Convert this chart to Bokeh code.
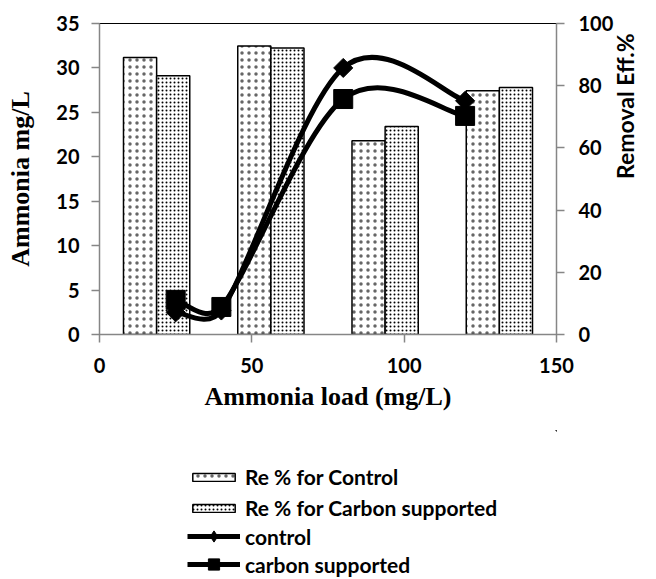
import math
from bokeh.plotting import figure
from bokeh.layouts import column
from bokeh.models import (ColumnDataSource, Range1d, LinearAxis,
                          SingleIntervalTicker, Legend, LegendItem)
from bokeh.transform import dodge
from bokeh.embed import file_html
from bokeh.resources import INLINE

# ---------------- data ----------------
loads = [25, 40, 80, 120]                    # Ammonia load (mg/L)
categories = ["25", "40", "80", "120"]       # bar categories (hidden category axis)
re_control = [89.1, 92.8, 62.3, 78.4]        # Re % for Control
re_carbon = [83.2, 92.1, 66.9, 79.4]         # Re % for Carbon supported
nh3_control = [2.5, 2.7, 30.0, 26.3]         # control (Ammonia mg/L)
nh3_carbon = [3.9, 3.1, 26.5, 24.6]          # carbon supported (Ammonia mg/L)

# ---------------- layout ----------------
W = 656
H_MAIN, H_LEG = 430, 149
FW, FH = 462, 311
BL, BT = 99, 23
BR = W - BL - FW
BB = H_MAIN - BT - FH

TICK_FONT = "Lato"
SERIF = "Liberation Serif"
AXIS_GRAY = "#868686"

p = figure(width=W, height=H_MAIN, x_range=Range1d(0, 150), y_range=Range1d(0, 35),
           output_backend="svg", toolbar_location=None,
           min_border_left=BL, min_border_right=BR, min_border_top=BT,
           min_border_bottom=BB)
p.extra_y_ranges = {"pct": Range1d(0, 100)}
# hidden category axis of the bar chart: one unit slot per category
p.extra_x_ranges = {"cat": Range1d(0, len(categories))}
p.grid.visible = False
p.outline_line_color = "black"
p.outline_line_width = 1
p.background_fill_color = "white"
p.border_fill_color = "white"

def style_axis(ax, standoff):
    ax.axis_line_color = AXIS_GRAY
    ax.axis_line_width = 1.5
    ax.major_tick_line_color = AXIS_GRAY
    ax.major_tick_line_width = 1.5
    ax.major_tick_out = 8
    ax.major_tick_in = 0
    ax.minor_tick_line_color = None
    ax.major_label_text_font = TICK_FONT
    ax.major_label_text_font_style = "bold"
    ax.major_label_text_font_size = "20px"
    ax.major_label_text_color = "black"
    ax.major_label_standoff = standoff

# bottom axis
xa = p.xaxis[0]
xa.ticker = SingleIntervalTicker(interval=50)
style_axis(xa, 15)
xa.axis_label = "Ammonia load (mg/L)"
xa.axis_label_text_font = SERIF
xa.axis_label_text_font_style = "bold"
xa.axis_label_text_font_size = "26px"
xa.axis_label_text_color = "black"
xa.axis_label_standoff = 6

# left axis
ya = p.yaxis[0]
ya.ticker = SingleIntervalTicker(interval=5)
style_axis(ya, 12)
ya.axis_label = "Ammonia mg/L"
ya.axis_label_text_font = SERIF
ya.axis_label_text_font_style = "bold"
ya.axis_label_text_font_size = "26px"
ya.axis_label_text_color = "black"
ya.axis_label_standoff = 18

# right axis
ra = LinearAxis(y_range_name="pct", ticker=SingleIntervalTicker(interval=20))
style_axis(ra, 14)
ra.axis_label = "Removal Eff.%"
ra.axis_label_text_font = TICK_FONT
ra.axis_label_text_font_style = "bold"
ra.axis_label_text_font_size = "23px"
ra.axis_label_text_color = "black"
ra.axis_label_standoff = 9
try:
    ra.axis_label_orientation = math.pi / 2
except Exception:
    pass
p.add_layout(ra, "right")

# ---------------- bars ----------------
BAR_C_STYLE = dict(fill_color="white", line_color="black", line_width=1.5,
                   hatch_pattern="dot", hatch_color="black", hatch_alpha=0.6,
                   hatch_scale=7, hatch_weight=1)
BAR_K_STYLE = dict(fill_color="white", line_color="black", line_width=1.5,
                   hatch_pattern="dot", hatch_color="black", hatch_alpha=1.0,
                   hatch_scale=4, hatch_weight=1)

slot = [i + 0.5 for i in range(len(categories))]
bar_src = ColumnDataSource(dict(cat=categories, slot=slot, ctrl=re_control, carb=re_carbon))
cat_range = p.extra_x_ranges["cat"]
p.vbar(x=dodge("slot", -0.145, range=cat_range), top="ctrl", width=0.29,
       source=bar_src, x_range_name="cat", y_range_name="pct", **BAR_C_STYLE)
p.vbar(x=dodge("slot", 0.145, range=cat_range), top="carb", width=0.29,
       source=bar_src, x_range_name="cat", y_range_name="pct", **BAR_K_STYLE)

# ---------------- smoothed lines (Excel-like Bezier) ----------------
sx = FW / 150.0
sy = FH / 35.0

def smooth_segments(xs, ys):
    P = [(x * sx, y * sy) for x, y in zip(xs, ys)]
    n = len(P)
    d = lambda a, b: math.hypot(a[0] - b[0], a[1] - b[1])
    out = {k: [] for k in ("x0", "y0", "x1", "y1", "cx0", "cy0", "cx1", "cy1")}
    for i in range(n - 1):
        p0 = P[i - 1] if i > 0 else P[i]
        p1, p2 = P[i], P[i + 1]
        p3 = P[i + 2] if i + 2 < n else P[i + 1]
        d02, d12, d13 = d(p0, p2), d(p1, p2), d(p1, p3)
        f0 = 1 / 6 if d02 / 6 < d12 / 2 else d12 / (2 * d02)
        f1 = 1 / 6 if d13 / 6 < d12 / 2 else d12 / (2 * d13)
        c1 = (p1[0] + f0 * (p2[0] - p0[0]), p1[1] + f0 * (p2[1] - p0[1]))
        c2 = (p2[0] - f1 * (p3[0] - p1[0]), p2[1] - f1 * (p3[1] - p1[1]))
        out["x0"].append(p1[0] / sx); out["y0"].append(p1[1] / sy)
        out["x1"].append(p2[0] / sx); out["y1"].append(p2[1] / sy)
        out["cx0"].append(c1[0] / sx); out["cy0"].append(c1[1] / sy)
        out["cx1"].append(c2[0] / sx); out["cy1"].append(c2[1] / sy)
    return ColumnDataSource(out)

LINE_STYLE = dict(line_color="black", line_width=5)
DIAMOND_STYLE = dict(marker="square", angle=math.pi / 4, fill_color="black", line_color="black")
SQUARE_STYLE = dict(marker="square", fill_color="black", line_color="black")

p.bezier(x0="x0", y0="y0", x1="x1", y1="y1", cx0="cx0", cy0="cy0", cx1="cx1", cy1="cy1",
         source=smooth_segments(loads, nh3_control), **LINE_STYLE)
p.bezier(x0="x0", y0="y0", x1="x1", y1="y1", cx0="cx0", cy0="cy0", cx1="cx1", cy1="cy1",
         source=smooth_segments(loads, nh3_carbon), **LINE_STYLE)

pts_src = ColumnDataSource(dict(load=loads, ctrl=nh3_control, carb=nh3_carbon))
p.scatter(x="load", y="ctrl", source=pts_src, size=13.5, **DIAMOND_STYLE)
p.scatter(x="load", y="carb", source=pts_src, size=19, **SQUARE_STYLE)

# ---------------- legend strip under the chart ----------------
# The strip's own ranges lie outside every data value, so its renderers only
# serve as legend swatches; nothing of them is drawn in the strip itself.
q = figure(width=W, height=H_LEG, x_range=Range1d(-2, -1), y_range=Range1d(-2, -1),
           output_backend="svg", toolbar_location=None,
           x_axis_location=None, y_axis_location=None, min_border=0)
q.grid.visible = False
q.outline_line_color = None
q.background_fill_color = "white"
q.border_fill_color = "white"

lg_bar_c = q.vbar(x="slot", top="ctrl", width=0.29, source=bar_src, **BAR_C_STYLE)
lg_bar_k = q.vbar(x="slot", top="carb", width=0.29, source=bar_src, **BAR_K_STYLE)
lg_line_c = q.line(x="load", y="ctrl", source=pts_src, **LINE_STYLE)
lg_pt_c = q.scatter(x="load", y="ctrl", source=pts_src, marker="diamond",
                    fill_color="black", line_color="black")
lg_line_k = q.line(x="load", y="carb", source=pts_src, **LINE_STYLE)
lg_pt_k = q.scatter(x="load", y="carb", source=pts_src, **SQUARE_STYLE)

def legend_style(lg):
    lg.label_text_font = TICK_FONT
    lg.label_text_font_style = "bold"
    lg.label_text_font_size = "21px"
    lg.label_text_color = "black"
    lg.border_line_color = None
    lg.background_fill_alpha = 0
    lg.padding = 0
    lg.margin = 0
    lg.glyph_width = 53
    lg.label_standoff = 5

leg_bars = Legend(items=[LegendItem(label="Re % for Control", renderers=[lg_bar_c]),
                         LegendItem(label="Re % for Carbon supported", renderers=[lg_bar_k])],
                  location=(88, 59))
legend_style(leg_bars)
leg_bars.glyph_height = 10
leg_bars.spacing = 6

leg_lines = Legend(items=[LegendItem(label="control", renderers=[lg_line_c, lg_pt_c]),
                          LegendItem(label="carbon supported", renderers=[lg_line_k, lg_pt_k])],
                   location=(88, 1))
legend_style(leg_lines)
leg_lines.glyph_height = 28
leg_lines.spacing = 0

q.add_layout(leg_bars, "center")
q.add_layout(leg_lines, "center")

page = column(p, q, spacing=0)
open("out.html", "w").write(file_html(page, INLINE))
